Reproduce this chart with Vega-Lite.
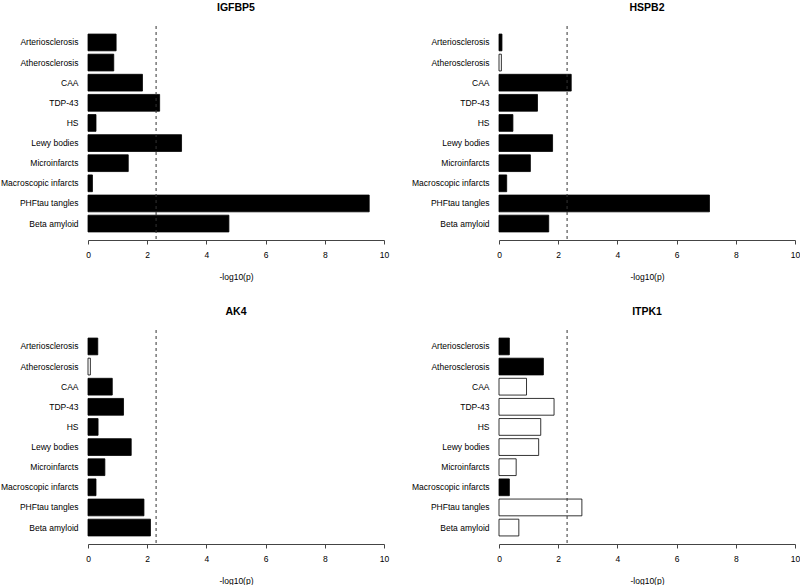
{
  "$schema": "https://vega.github.io/schema/vega-lite/v6.json",
  "padding": {"left": 0, "top": 3, "right": 2, "bottom": 0},
  "background": "white",
  "config": {
    "view": {"stroke": null},
    "font": "Liberation Sans",
    "title": {"fontSize": 10.5, "fontWeight": "bold", "color": "black", "offset": 12},
    "axisX": {
      "grid": false,
      "tickSize": 4,
      "tickColor": "#444",
      "domainColor": "#444",
      "labelFontSize": 8.5,
      "labelColor": "black",
      "labelPadding": 6,
      "labelFlush": false,
      "titleFontSize": 8.5,
      "titleFontWeight": "normal",
      "titleColor": "black",
      "titlePadding": 14
    },
    "axisY": {
      "domain": false,
      "ticks": false,
      "labelFontSize": 8.5,
      "labelColor": "black",
      "labelPadding": 10
    }
  },
  "datasets": {
    "scores": [
      {"gene": "IGFBP5", "trait": "Arteriosclerosis", "value": 0.95, "assoc": "positive"},
      {"gene": "IGFBP5", "trait": "Atherosclerosis", "value": 0.87, "assoc": "positive"},
      {"gene": "IGFBP5", "trait": "CAA", "value": 1.84, "assoc": "positive"},
      {"gene": "IGFBP5", "trait": "TDP-43", "value": 2.42, "assoc": "positive"},
      {"gene": "IGFBP5", "trait": "HS", "value": 0.27, "assoc": "positive"},
      {"gene": "IGFBP5", "trait": "Lewy bodies", "value": 3.16, "assoc": "positive"},
      {"gene": "IGFBP5", "trait": "Microinfarcts", "value": 1.36, "assoc": "positive"},
      {"gene": "IGFBP5", "trait": "Macroscopic infarcts", "value": 0.15, "assoc": "positive"},
      {"gene": "IGFBP5", "trait": "PHFtau tangles", "value": 9.5, "assoc": "positive"},
      {"gene": "IGFBP5", "trait": "Beta amyloid", "value": 4.76, "assoc": "positive"},
      {"gene": "HSPB2", "trait": "Arteriosclerosis", "value": 0.1, "assoc": "positive"},
      {"gene": "HSPB2", "trait": "Atherosclerosis", "value": 0.08, "assoc": "negative"},
      {"gene": "HSPB2", "trait": "CAA", "value": 2.44, "assoc": "positive"},
      {"gene": "HSPB2", "trait": "TDP-43", "value": 1.3, "assoc": "positive"},
      {"gene": "HSPB2", "trait": "HS", "value": 0.47, "assoc": "positive"},
      {"gene": "HSPB2", "trait": "Lewy bodies", "value": 1.81, "assoc": "positive"},
      {"gene": "HSPB2", "trait": "Microinfarcts", "value": 1.06, "assoc": "positive"},
      {"gene": "HSPB2", "trait": "Macroscopic infarcts", "value": 0.26, "assoc": "positive"},
      {"gene": "HSPB2", "trait": "PHFtau tangles", "value": 7.11, "assoc": "positive"},
      {"gene": "HSPB2", "trait": "Beta amyloid", "value": 1.68, "assoc": "positive"},
      {"gene": "AK4", "trait": "Arteriosclerosis", "value": 0.33, "assoc": "positive"},
      {"gene": "AK4", "trait": "Atherosclerosis", "value": 0.08, "assoc": "negative"},
      {"gene": "AK4", "trait": "CAA", "value": 0.82, "assoc": "positive"},
      {"gene": "AK4", "trait": "TDP-43", "value": 1.2, "assoc": "positive"},
      {"gene": "AK4", "trait": "HS", "value": 0.34, "assoc": "positive"},
      {"gene": "AK4", "trait": "Lewy bodies", "value": 1.46, "assoc": "positive"},
      {"gene": "AK4", "trait": "Microinfarcts", "value": 0.57, "assoc": "positive"},
      {"gene": "AK4", "trait": "Macroscopic infarcts", "value": 0.27, "assoc": "positive"},
      {"gene": "AK4", "trait": "PHFtau tangles", "value": 1.89, "assoc": "positive"},
      {"gene": "AK4", "trait": "Beta amyloid", "value": 2.11, "assoc": "positive"},
      {"gene": "ITPK1", "trait": "Arteriosclerosis", "value": 0.35, "assoc": "positive"},
      {"gene": "ITPK1", "trait": "Atherosclerosis", "value": 1.5, "assoc": "positive"},
      {"gene": "ITPK1", "trait": "CAA", "value": 0.93, "assoc": "negative"},
      {"gene": "ITPK1", "trait": "TDP-43", "value": 1.86, "assoc": "negative"},
      {"gene": "ITPK1", "trait": "HS", "value": 1.41, "assoc": "negative"},
      {"gene": "ITPK1", "trait": "Lewy bodies", "value": 1.34, "assoc": "negative"},
      {"gene": "ITPK1", "trait": "Microinfarcts", "value": 0.58, "assoc": "negative"},
      {"gene": "ITPK1", "trait": "Macroscopic infarcts", "value": 0.35, "assoc": "positive"},
      {"gene": "ITPK1", "trait": "PHFtau tangles", "value": 2.8, "assoc": "negative"},
      {"gene": "ITPK1", "trait": "Beta amyloid", "value": 0.67, "assoc": "negative"}
    ],
    "threshold": [{"cutoff": 2.3}]
  },
  "columns": 2,
  "spacing": {"row": 26, "column": 22},
  "concat": [
    {
      "title": "IGFBP5",
      "width": 296, "height": 214,
      "layer": [
        {
          "data": {"name": "scores"},
          "transform": [{"filter": "datum.gene === 'IGFBP5'"}],
          "mark": {"type": "bar", "stroke": "black", "strokeWidth": 0.8},
          "encoding": {
            "y": {"field": "trait", "type": "nominal", "sort": ["Arteriosclerosis", "Atherosclerosis", "CAA", "TDP-43", "HS", "Lewy bodies", "Microinfarcts", "Macroscopic infarcts", "PHFtau tangles", "Beta amyloid"], "scale": {"paddingInner": 0.167, "paddingOuter": 0.4}, "axis": {"title": null}},
            "x": {"field": "value", "type": "quantitative", "scale": {"domain": [0, 10], "nice": false}, "axis": {"values": [0, 2, 4, 6, 8, 10], "title": "-log10(p)"}},
            "fill": {"field": "assoc", "type": "nominal", "scale": {"domain": ["positive", "negative"], "range": ["black", "white"]}, "legend": null}
          }
        },
        {
          "data": {"name": "threshold"},
          "mark": {"type": "rule", "strokeDash": [3, 3], "color": "#333", "strokeWidth": 1},
          "encoding": {"x": {"field": "cutoff", "type": "quantitative"}}
        }
      ]
    },
    {
      "title": "HSPB2",
      "width": 296, "height": 214,
      "layer": [
        {
          "data": {"name": "scores"},
          "transform": [{"filter": "datum.gene === 'HSPB2'"}],
          "mark": {"type": "bar", "stroke": "black", "strokeWidth": 0.8},
          "encoding": {
            "y": {"field": "trait", "type": "nominal", "sort": ["Arteriosclerosis", "Atherosclerosis", "CAA", "TDP-43", "HS", "Lewy bodies", "Microinfarcts", "Macroscopic infarcts", "PHFtau tangles", "Beta amyloid"], "scale": {"paddingInner": 0.167, "paddingOuter": 0.4}, "axis": {"title": null}},
            "x": {"field": "value", "type": "quantitative", "scale": {"domain": [0, 10], "nice": false}, "axis": {"values": [0, 2, 4, 6, 8, 10], "title": "-log10(p)"}},
            "fill": {"field": "assoc", "type": "nominal", "scale": {"domain": ["positive", "negative"], "range": ["black", "white"]}, "legend": null}
          }
        },
        {
          "data": {"name": "threshold"},
          "mark": {"type": "rule", "strokeDash": [3, 3], "color": "#333", "strokeWidth": 1},
          "encoding": {"x": {"field": "cutoff", "type": "quantitative"}}
        }
      ]
    },
    {
      "title": "AK4",
      "width": 296, "height": 214,
      "layer": [
        {
          "data": {"name": "scores"},
          "transform": [{"filter": "datum.gene === 'AK4'"}],
          "mark": {"type": "bar", "stroke": "black", "strokeWidth": 0.8},
          "encoding": {
            "y": {"field": "trait", "type": "nominal", "sort": ["Arteriosclerosis", "Atherosclerosis", "CAA", "TDP-43", "HS", "Lewy bodies", "Microinfarcts", "Macroscopic infarcts", "PHFtau tangles", "Beta amyloid"], "scale": {"paddingInner": 0.167, "paddingOuter": 0.4}, "axis": {"title": null}},
            "x": {"field": "value", "type": "quantitative", "scale": {"domain": [0, 10], "nice": false}, "axis": {"values": [0, 2, 4, 6, 8, 10], "title": "-log10(p)"}},
            "fill": {"field": "assoc", "type": "nominal", "scale": {"domain": ["positive", "negative"], "range": ["black", "white"]}, "legend": null}
          }
        },
        {
          "data": {"name": "threshold"},
          "mark": {"type": "rule", "strokeDash": [3, 3], "color": "#333", "strokeWidth": 1},
          "encoding": {"x": {"field": "cutoff", "type": "quantitative"}}
        }
      ]
    },
    {
      "title": "ITPK1",
      "width": 296, "height": 214,
      "layer": [
        {
          "data": {"name": "scores"},
          "transform": [{"filter": "datum.gene === 'ITPK1'"}],
          "mark": {"type": "bar", "stroke": "black", "strokeWidth": 0.8},
          "encoding": {
            "y": {"field": "trait", "type": "nominal", "sort": ["Arteriosclerosis", "Atherosclerosis", "CAA", "TDP-43", "HS", "Lewy bodies", "Microinfarcts", "Macroscopic infarcts", "PHFtau tangles", "Beta amyloid"], "scale": {"paddingInner": 0.167, "paddingOuter": 0.4}, "axis": {"title": null}},
            "x": {"field": "value", "type": "quantitative", "scale": {"domain": [0, 10], "nice": false}, "axis": {"values": [0, 2, 4, 6, 8, 10], "title": "-log10(p)"}},
            "fill": {"field": "assoc", "type": "nominal", "scale": {"domain": ["positive", "negative"], "range": ["black", "white"]}, "legend": null}
          }
        },
        {
          "data": {"name": "threshold"},
          "mark": {"type": "rule", "strokeDash": [3, 3], "color": "#333", "strokeWidth": 1},
          "encoding": {"x": {"field": "cutoff", "type": "quantitative"}}
        }
      ]
    }
  ]
}
